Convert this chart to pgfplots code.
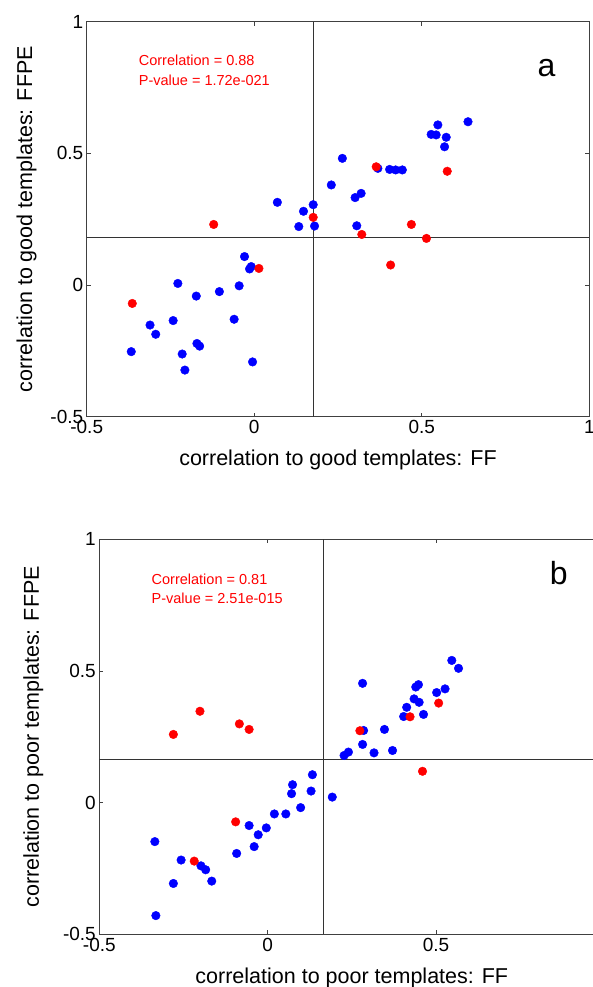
\documentclass[border=0pt]{standalone}
\usepackage{pgfplots}
\pgfplotsset{compat=1.18}
\usepackage{fontspec}
\setmainfont{Liberation Sans}
\definecolor{axgray}{gray}{0.25}
\begin{document}
\begin{tikzpicture}
\useasboundingbox (0pt,0pt) rectangle (593pt,987pt);
\clip (0pt,0pt) rectangle (593pt,987pt);
\pgfplotsset{
  myax/.style={
    scale only axis, height=395pt,
    xmin=-0.5, xmax=1, ymin=-0.5, ymax=1,
    xtick={-0.5,0,0.5,1}, ytick={-0.5,0,0.5,1},
    xticklabels={-0.5,0,0.5,1}, yticklabels={-0.5,0,0.5,1},
    tick align=inside, major tick length=4pt,
    axis line style={axgray, line width=1pt},
    every tick/.style={axgray, line width=0.8pt},
    tick label style={font=\fontsize{19}{19}\selectfont},
    label style={font=\fontsize{21.5}{21.5}\selectfont},
    clip=false,
  },
  bluedots/.style={only marks, mark=*, mark size=4.3pt, color=blue, mark options={draw=blue, fill=blue}},
  reddots/.style={only marks, mark=*, mark size=4.3pt, color=red, mark options={draw=red, fill=red}},
}
% ---------- panel a ----------
\begin{axis}[myax, at={(86.7pt,570.3pt)}, anchor=south west, width=502.6pt,
  xlabel={correlation to good templates: FF},
  ylabel={correlation to good templates: FFPE},
  xlabel style={at={(axis description cs:0.5,-0.1096)}, anchor=center},
  ylabel style={at={(axis description cs:-0.1194,0.5)}, anchor=center},
]
\addplot[black!80, line width=0.9pt] coordinates {(0.177,-0.5) (0.177,1)};
\addplot[black!80, line width=0.9pt] coordinates {(-0.5,0.181) (1,0.181)};
\addplot[bluedots] coordinates {
(0.638,0.620) (0.548,0.608) (0.528,0.572) (0.543,0.570) (0.573,0.561)
(0.568,0.525) (0.263,0.481) (0.369,0.443) (0.404,0.439) (0.422,0.437)
(0.442,0.437) (0.230,0.380) (0.319,0.348) (0.301,0.332) (0.069,0.314)
(0.176,0.305) (0.147,0.280) (0.133,0.222) (0.180,0.224) (0.306,0.225)
(-0.029,0.108) (-0.014,0.061) (-0.009,0.070) (-0.228,0.006) (-0.045,-0.003)
(-0.104,-0.025) (-0.173,-0.042) (-0.060,-0.130) (-0.242,-0.135) (-0.311,-0.152)
(-0.294,-0.187) (-0.171,-0.222) (-0.163,-0.232) (-0.367,-0.253) (-0.215,-0.262)
(-0.005,-0.292) (-0.207,-0.323)
};
\addplot[reddots] coordinates {
(0.364,0.449) (0.576,0.432) (0.176,0.257) (-0.121,0.230) (0.469,0.230)
(0.321,0.192) (0.514,0.177) (0.407,0.076) (0.014,0.063) (-0.364,-0.070)
};
\node[anchor=base west, red, font=\fontsize{14.5}{14.5}\selectfont, inner sep=0pt] at (axis cs:-0.345,0.832) {Correlation = 0.88};
\node[anchor=base west, red, font=\fontsize{14.5}{14.5}\selectfont, inner sep=0pt] at (axis cs:-0.345,0.756) {P-value = 1.72e-021};
\node[anchor=base west, font=\fontsize{32}{32}\selectfont, inner sep=0pt] at (axis cs:0.845,0.791) {a};
\end{axis}
% ---------- panel b ----------
\begin{axis}[myax, at={(99.3pt,52.7pt)}, anchor=south west, width=505pt,
  xticklabels={-0.5,0,0.5,{}},
  xlabel={correlation to poor templates: FF},
  ylabel={correlation to poor templates: FFPE},
  xlabel style={at={(axis description cs:0.5,-0.1106)}, anchor=center},
  ylabel style={at={(axis description cs:-0.1307,0.5)}, anchor=center},
]
\addplot[black!80, line width=0.9pt] coordinates {(0.165,-0.5) (0.165,1)};
\addplot[black!80, line width=0.9pt] coordinates {(-0.5,0.164) (1,0.164)};
\addplot[bluedots] coordinates {
(0.547,0.540) (0.567,0.510) (0.282,0.453) (0.448,0.448) (0.440,0.439)
(0.527,0.432) (0.502,0.418) (0.435,0.394) (0.450,0.381) (0.413,0.362)
(0.404,0.327) (0.463,0.335) (0.347,0.278) (0.285,0.274) (0.282,0.221)
(0.371,0.198) (0.316,0.189) (0.240,0.192) (0.227,0.179) (0.133,0.106)
(0.074,0.068) (0.071,0.034) (0.129,0.044) (0.192,0.021) (0.098,-0.019)
(0.020,-0.043) (0.054,-0.043) (-0.055,-0.087) (-0.004,-0.096) (-0.028,-0.122)
(-0.040,-0.167) (-0.092,-0.193) (-0.335,-0.148) (-0.257,-0.218) (-0.198,-0.240)
(-0.184,-0.255) (-0.166,-0.298) (-0.280,-0.307) (-0.332,-0.429)
};
\addplot[reddots] coordinates {
(0.508,0.378) (0.423,0.326) (0.274,0.273) (0.460,0.119) (-0.201,0.347)
(-0.084,0.299) (-0.055,0.278) (-0.280,0.259) (-0.095,-0.073) (-0.218,-0.222)
};
\node[anchor=base west, red, font=\fontsize{14.5}{14.5}\selectfont, inner sep=0pt] at (axis cs:-0.345,0.830) {Correlation = 0.81};
\node[anchor=base west, red, font=\fontsize{14.5}{14.5}\selectfont, inner sep=0pt] at (axis cs:-0.345,0.756) {P-value = 2.51e-015};
\node[anchor=base west, font=\fontsize{32}{32}\selectfont, inner sep=0pt] at (axis cs:0.838,0.830) {b};
\end{axis}
\end{tikzpicture}
\end{document}
